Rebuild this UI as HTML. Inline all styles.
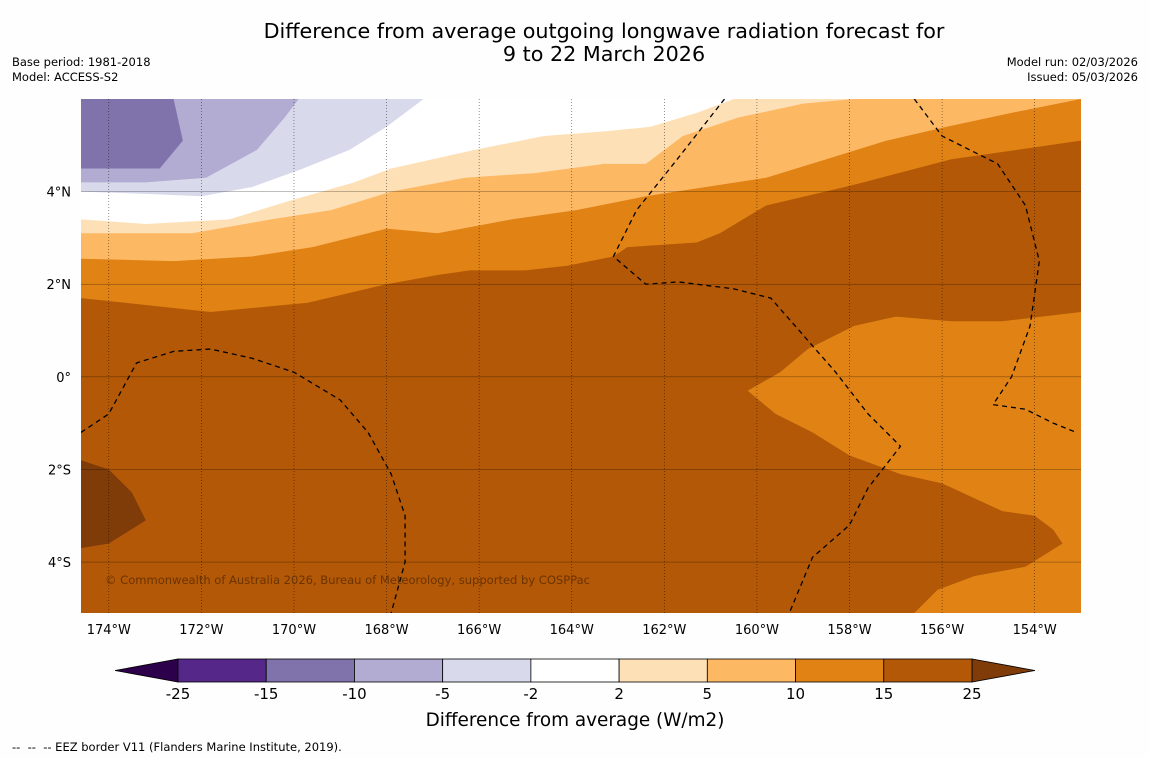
<!DOCTYPE html>
<html><head><meta charset="utf-8"><style>
body{margin:0;background:#fff;font-family:"DejaVu Sans","Liberation Sans",sans-serif;}
#wrap{position:relative;width:1150px;height:758px;background:#fefefe;overflow:hidden}
.t{position:absolute;color:#000}
svg text{font-family:"DejaVu Sans","Liberation Sans",sans-serif}
</style></head><body>
<div id="wrap">
<div class="t" style="left:0;width:1208px;top:20px;text-align:center;font-size:20.7px;line-height:23px">Difference from average outgoing longwave radiation forecast for<br>9 to 22 March 2026</div>
<div class="t" style="left:12px;top:55px;font-size:11.5px;line-height:15px">Base period: 1981-2018<br>Model: ACCESS-S2</div>
<div class="t" style="right:12px;top:55px;font-size:11.5px;line-height:15px;text-align:right">Model run: 02/03/2026<br>Issued: 05/03/2026</div>
<div class="t" style="left:12px;top:740px;font-size:11.5px">--&nbsp; --&nbsp; -- EEZ border V11 (Flanders Marine Institute, 2019).</div>
<svg id="svg" width="1150" height="758" style="position:absolute;left:0;top:0"></svg>
</div>
<script>
const lonTicks=[-174,-172,-170,-168,-166,-164,-162,-160,-158,-156,-154];
const latTicks=[4,2,0,-2,-4];
const levels=[-25,-15,-10,-5,-2,2,5,10,15,25];
const bandColors=["#542788","#8073ac","#b2abd2","#d8daeb","#ffffff","#fee0b6","#fdb863","#e08214","#b35806"];
const underColor="#2d004b", overColor="#7f3b08";
const regionBase=[[-174.6,6],[-153,6],[-153,-5.1],[-174.6,-5.1]];
const region10to15Top=[[-174.6,6],[-153,6],[-153,5.1],[-155.8,4.7],[-157.7,4.2],[-158.1,4.1],[-159.8,3.7],[-160.8,3.1],[-161.3,2.9],[-162.8,2.8],[-163.1,2.6],[-164.1,2.4],[-165.0,2.3],[-166.2,2.3],[-166.9,2.2],[-168.0,2.0],[-169.7,1.6],[-171.8,1.4],[-174.6,1.7]];
const region10to15Right=[[-153,1.4],[-154.7,1.2],[-155.8,1.2],[-157.0,1.3],[-157.9,1.1],[-158.9,0.6],[-159.5,0.1],[-160.2,-0.3],[-159.6,-0.8],[-158.8,-1.2],[-158.0,-1.7],[-156.9,-2.1],[-156.0,-2.3],[-154.7,-2.9],[-154.0,-3.0],[-153.6,-3.3],[-153.4,-3.6],[-154.2,-4.1],[-155.3,-4.3],[-156.1,-4.6],[-156.6,-5.1],[-153,-5.1]];
const regionOver=[[-174.6,-1.8],[-174.0,-2.0],[-173.5,-2.5],[-173.2,-3.1],[-174.0,-3.6],[-174.6,-3.7]];
const region5to10=[[-174.6,6],[-153,6],[-153,6],[-154.5,5.7],[-155.9,5.4],[-157.2,5.1],[-158.5,4.7],[-159.8,4.3],[-161.1,4.1],[-162.4,3.9],[-163.9,3.6],[-165.3,3.4],[-166.9,3.1],[-168.0,3.2],[-169.6,2.8],[-170.9,2.6],[-172.6,2.5],[-174.6,2.55]];
const region2to5=[[-174.6,6],[-157.9,6],[-159.0,5.9],[-160.4,5.6],[-161.6,5.2],[-162.4,4.6],[-163.3,4.6],[-164.8,4.4],[-166.3,4.3],[-167.9,4.0],[-169.2,3.6],[-170.5,3.4],[-172.2,3.1],[-174.6,3.1]];
const regionNeutral=[[-174.6,6],[-160.5,6],[-161.3,5.7],[-162.3,5.4],[-163.3,5.3],[-164.6,5.2],[-166.1,4.9],[-167.9,4.5],[-168.7,4.2],[-170.1,3.8],[-171.4,3.4],[-173.2,3.3],[-174.6,3.4]];
const regionM2=[[-174.6,6],[-167.2,6],[-168.0,5.4],[-168.8,4.9],[-169.8,4.5],[-170.9,4.1],[-172.0,3.9],[-173.2,3.95],[-174.6,4.0]];
const regionM5=[[-174.6,6],[-169.9,6],[-170.2,5.6],[-170.8,4.9],[-171.9,4.3],[-173.2,4.2],[-174.6,4.2]];
const regionM10=[[-174.6,6],[-172.6,6],[-172.4,5.1],[-172.9,4.5],[-174.6,4.5]];
const eezLines=[
[[-174.6,-1.2],[-174,-0.8],[-173.4,0.3],[-172.6,0.55],[-171.8,0.6],[-170.9,0.4],[-170.0,0.1],[-169.0,-0.5],[-168.4,-1.2],[-167.9,-2.1],[-167.6,-3.0],[-167.6,-4.0],[-167.9,-5.1]],
[[-160.7,6],[-161.8,4.6],[-162.6,3.6],[-163.1,2.6],[-162.4,2.0],[-161.7,2.05],[-160.5,1.9],[-159.7,1.7],[-159.0,0.9],[-158.3,0.1],[-157.6,-0.8],[-156.9,-1.5],[-157.6,-2.4],[-158.0,-3.2],[-158.8,-3.9],[-159.3,-5.1]],
[[-156.6,6],[-156.0,5.2],[-154.8,4.6],[-154.2,3.7],[-153.9,2.5],[-154.1,1.1],[-154.5,0.0],[-154.9,-0.6],[-154.2,-0.7],[-153.6,-1.0],[-153.1,-1.2]]];
const NS="http://www.w3.org/2000/svg";
const svg=document.getElementById('svg');
const L=81,R=1081,T=99,B=613;
const lon0=-174.6,lon1=-153.0,lat0=6.0,lat1=-5.1;
const xs=lon=>L+(lon-lon0)/(lon1-lon0)*(R-L);
const ys=lat=>T+(lat-lat0)/(lat1-lat0)*(B-T);
function el(tag,attrs,parent){const e=document.createElementNS(NS,tag);for(const k in attrs)e.setAttribute(k,attrs[k]);(parent||svg).appendChild(e);return e;}
const clip=el('clipPath',{id:'mc'});el('rect',{x:L,y:T,width:R-L,height:B-T},clip);
const g=el('g',{'clip-path':'url(#mc)'});


function poly(pts,fill,name){const p=el('polygon',{points:pts.map(q=>xs(q[0])+','+ys(q[1])).join(' '),fill:fill},g);

}
poly(regionBase,bandColors[8],'band-15-25');
poly(region10to15Top,bandColors[7],'band-10-15-north');
poly(region10to15Right,bandColors[7],'band-10-15-east');
poly(regionOver,overColor,'band-over-25');
poly(region5to10,bandColors[6],'band-5-10');
poly(region2to5,bandColors[5],'band-2-5');
poly(regionNeutral,bandColors[4],'band-neutral');
poly(regionM2,bandColors[3],'band-minus2-minus5');
poly(regionM5,bandColors[2],'band-minus5-minus10');
poly(regionM10,bandColors[1],'band-minus10-minus15');
eezLines.forEach((ln,i)=>{const p=el('polyline',{points:ln.map(q=>xs(q[0])+','+ys(q[1])).join(' '),fill:'none',stroke:'#000','stroke-width':1.3,'stroke-dasharray':'5,4'},g);

});
lonTicks.forEach(v=>{const x=xs(v);const l=el('line',{x1:x,x2:x,y1:T,y2:B,stroke:'#000','stroke-width':0.6,'stroke-dasharray':'1,2',opacity:0.7},g);


const t=el('text',{x:x,y:634,'text-anchor':'middle','font-size':13});t.textContent=(-v)+'°W';

});
latTicks.forEach(v=>{const y=ys(v);const l=el('line',{x1:L,x2:R,y1:y,y2:y,stroke:'#000','stroke-width':0.5,opacity:0.5},g);


const t=el('text',{x:71,y:y+5,'text-anchor':'end','font-size':13});t.textContent=v===0?'0°':Math.abs(v)+'°'+(v>0?'N':'S');

});
const cr=el('text',{x:105,y:584,'font-size':11.5,fill:'#5a2a00',opacity:0.8,textLength:485,lengthAdjust:'spacingAndGlyphs'});cr.textContent='© Commonwealth of Australia 2026, Bureau of Meteorology, supported by COSPPac';


const cbL=178,cbR=972,cbT=659,cbB=682,bw=(cbR-cbL)/bandColors.length;
const cb=el('g',{});


el('polygon',{points:`${cbL},${cbT} ${cbL},${cbB} 115,${(cbT+cbB)/2}`,fill:underColor,stroke:'#000','stroke-width':0.8},cb);
el('polygon',{points:`${cbR},${cbT} ${cbR},${cbB} 1035,${(cbT+cbB)/2}`,fill:overColor,stroke:'#000','stroke-width':0.8},cb);
bandColors.forEach((c,i)=>{const r=el('rect',{x:cbL+i*bw,y:cbT,width:bw,height:cbB-cbT,fill:c,stroke:'#000','stroke-width':0.8},cb);

});
levels.forEach((v,i)=>{const t=el('text',{x:cbL+i*bw,y:699,'text-anchor':'middle','font-size':15},cb);t.textContent=v;

});
const ct=el('text',{x:575,y:726,'text-anchor':'middle','font-size':18.4});ct.textContent='Difference from average (W/m2)';


</script>
</body></html>
